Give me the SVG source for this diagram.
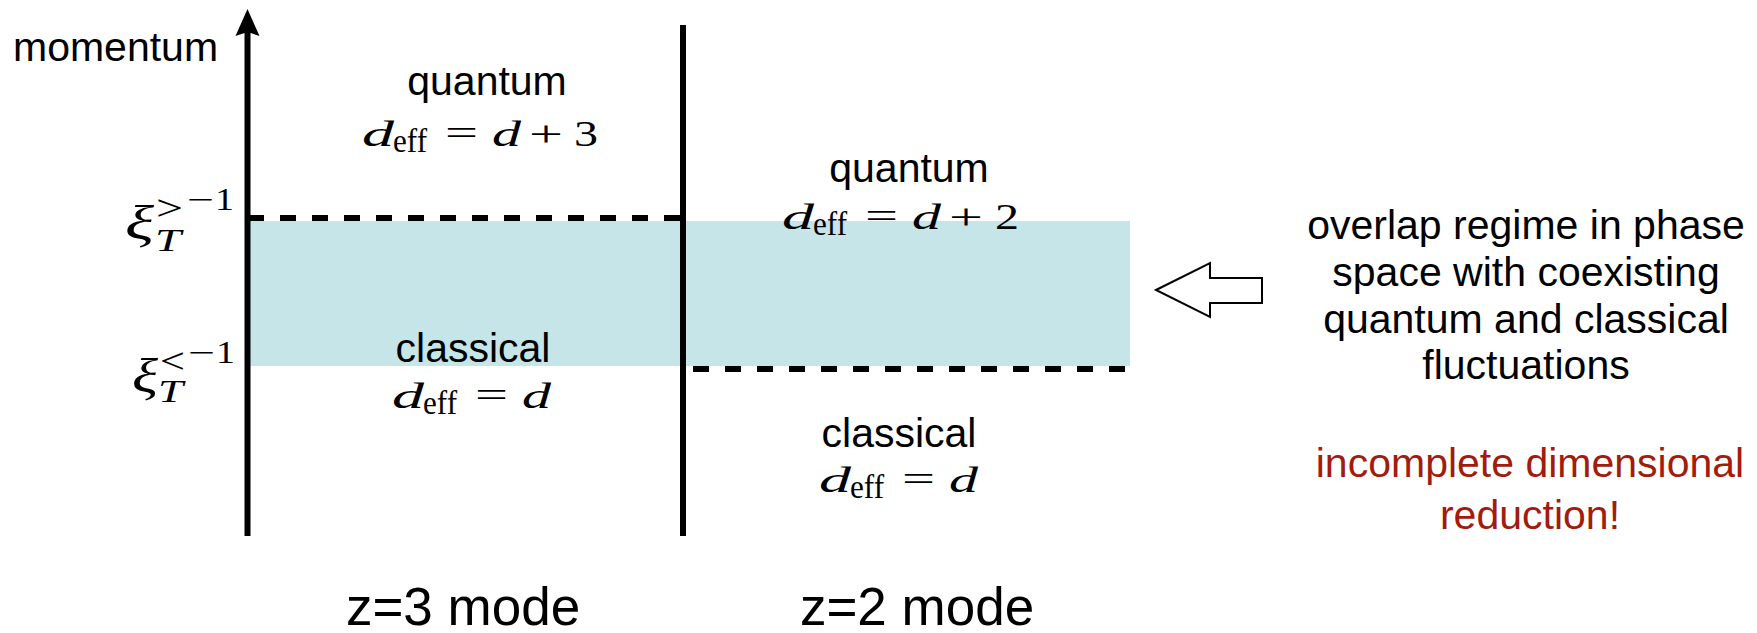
<svg xmlns="http://www.w3.org/2000/svg" width="1757" height="633" viewBox="0 0 1757 633">
<defs>
<style>
.sans { font-family: "Liberation Sans", Arial, sans-serif; font-size: 41px; fill: #000; }
.big { font-size: 53px; }
.mid { text-anchor: middle; }
.red { fill: #A21B0C; }
.mi { font-family: "Liberation Serif", "Times New Roman", serif; font-style: italic; font-size: 36px; fill: #000; }
.mr { font-family: "Liberation Serif", "Times New Roman", serif; font-size: 36px; fill: #000; }
.sub { font-size: 33px; }
.xi { font-size: 48px; }
.ss { font-size: 31px; }
.rel { font-size: 36px; }
.axis { stroke: #000; stroke-width: 6; fill: none; }
.dash { stroke: #000; stroke-width: 6; stroke-dasharray: 16 16; fill: none; }
</style>
</defs>
<rect width="1757" height="633" fill="#fff"/>

<g id="overlap-band">
<rect x="250" y="221" width="880" height="145" fill="#C6E5E9"/>
</g>

<g id="connectors">
<line class="dash" x1="248" y1="218" x2="680" y2="218"/>
<line class="dash" x1="693" y1="369" x2="1127" y2="369"/>
<line class="axis" x1="247.5" y1="30" x2="247.5" y2="536"/>
<polygon points="247.5,9 259.5,36 247.5,32 235.5,36" fill="#000"/>
<line class="axis" x1="683" y1="25" x2="683" y2="536" stroke-width="5"/>
<polygon points="1156,290 1210,263 1210,278 1262,278 1262,303 1210,303 1210,317" fill="#fff" stroke="#000" stroke-width="2" stroke-linejoin="miter"/>
</g>

<g id="axis-label">
<text class="sans" x="13" y="61">momentum</text>
</g>

<g id="xi-upper">
<text class="mi xi" x="125" y="239" textLength="29" lengthAdjust="spacingAndGlyphs">ξ</text>
<text class="mr rel" x="156" y="220" textLength="27" lengthAdjust="spacingAndGlyphs">&gt;</text>
<text class="mi ss" x="155" y="251" textLength="26" lengthAdjust="spacingAndGlyphs">T</text>
<text class="mr ss" x="187" y="210" textLength="27" lengthAdjust="spacingAndGlyphs">−</text>
<text class="mr ss" x="215" y="210" textLength="19" lengthAdjust="spacingAndGlyphs">1</text>
</g>

<g id="xi-lower">
<text class="mi xi" x="132" y="392" textLength="26" lengthAdjust="spacingAndGlyphs">ξ</text>
<text class="mr rel" x="160" y="373" textLength="25" lengthAdjust="spacingAndGlyphs">&lt;</text>
<text class="mi ss" x="158" y="402" textLength="25" lengthAdjust="spacingAndGlyphs">T</text>
<text class="mr ss" x="188" y="363" textLength="27" lengthAdjust="spacingAndGlyphs">−</text>
<text class="mr ss" x="216" y="363" textLength="19" lengthAdjust="spacingAndGlyphs">1</text>
</g>

<g id="z3-quantum">
<text class="sans mid" x="487" y="95">quantum</text>
<g transform="translate(363,146)">
<text class="mi" x="-1" y="0" textLength="32" lengthAdjust="spacingAndGlyphs">d</text>
<text class="mr sub" x="30" y="6" textLength="34" lengthAdjust="spacingAndGlyphs">eff</text>
<text class="mr" x="82" y="-1" textLength="33" lengthAdjust="spacingAndGlyphs">=</text>
<text class="mi" x="129" y="0" textLength="29" lengthAdjust="spacingAndGlyphs">d</text>
<text class="mr" x="166" y="0" textLength="34" lengthAdjust="spacingAndGlyphs">+</text>
<text class="mr" x="211" y="0" textLength="24" lengthAdjust="spacingAndGlyphs">3</text>
</g>
</g>

<g id="z3-classical">
<text class="sans mid" x="473" y="362">classical</text>
<g transform="translate(393,408)">
<text class="mi" x="-1" y="0" textLength="32" lengthAdjust="spacingAndGlyphs">d</text>
<text class="mr sub" x="30" y="6" textLength="34" lengthAdjust="spacingAndGlyphs">eff</text>
<text class="mr" x="82" y="-1" textLength="33" lengthAdjust="spacingAndGlyphs">=</text>
<text class="mi" x="129" y="0" textLength="29" lengthAdjust="spacingAndGlyphs">d</text>
</g>
</g>

<g id="z2-quantum">
<text class="sans mid" x="909" y="182">quantum</text>
<g transform="translate(783,229)">
<text class="mi" x="-1" y="0" textLength="32" lengthAdjust="spacingAndGlyphs">d</text>
<text class="mr sub" x="30" y="6" textLength="34" lengthAdjust="spacingAndGlyphs">eff</text>
<text class="mr" x="82" y="-1" textLength="33" lengthAdjust="spacingAndGlyphs">=</text>
<text class="mi" x="129" y="0" textLength="29" lengthAdjust="spacingAndGlyphs">d</text>
<text class="mr" x="166" y="0" textLength="34" lengthAdjust="spacingAndGlyphs">+</text>
<text class="mr" x="212" y="0" textLength="24" lengthAdjust="spacingAndGlyphs">2</text>
</g>
</g>

<g id="z2-classical">
<text class="sans mid" x="899" y="447">classical</text>
<g transform="translate(820,492)">
<text class="mi" x="-1" y="0" textLength="32" lengthAdjust="spacingAndGlyphs">d</text>
<text class="mr sub" x="30" y="6" textLength="34" lengthAdjust="spacingAndGlyphs">eff</text>
<text class="mr" x="82" y="-1" textLength="33" lengthAdjust="spacingAndGlyphs">=</text>
<text class="mi" x="129" y="0" textLength="29" lengthAdjust="spacingAndGlyphs">d</text>
</g>
</g>

<g id="note">
<text class="sans mid" x="1526" y="239">overlap regime in phase</text>
<text class="sans mid" x="1526" y="286">space with coexisting</text>
<text class="sans mid" x="1526" y="333">quantum and classical</text>
<text class="sans mid" x="1526" y="379">fluctuations</text>
</g>

<g id="conclusion">
<text class="sans mid red" x="1530" y="477">incomplete dimensional</text>
<text class="sans mid red" x="1530" y="529">reduction!</text>
</g>

<g id="mode-labels">
<text class="sans big mid" x="463" y="625">z=3 mode</text>
<text class="sans big mid" x="917" y="625">z=2 mode</text>
</g>
</svg>
